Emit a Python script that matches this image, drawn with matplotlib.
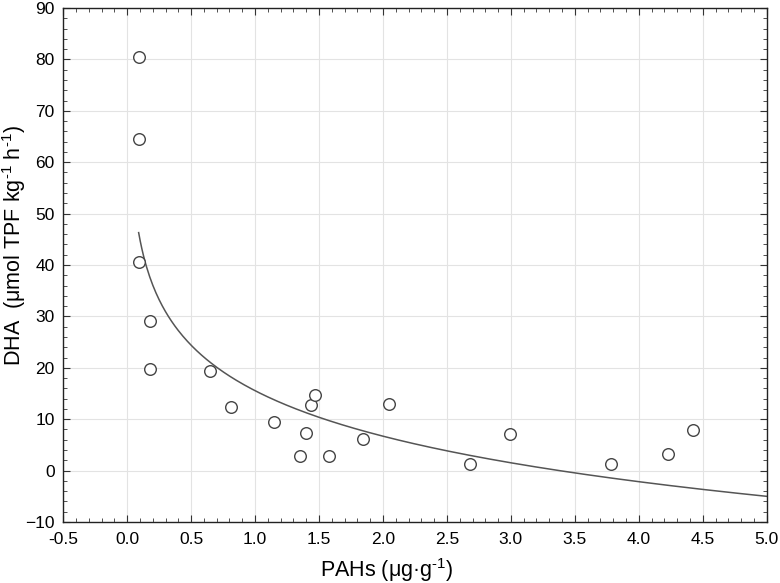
import numpy as np
import matplotlib
matplotlib.use("Agg")
import matplotlib.pyplot as plt
from matplotlib.ticker import MultipleLocator

plt.rcParams['font.family'] = ['Liberation Sans', 'DejaVu Sans']
plt.rcParams['mathtext.fontset'] = 'custom'
plt.rcParams['mathtext.rm'] = 'Liberation Sans'

pahs = [0.09, 0.09, 0.09, 0.18, 0.18, 0.65, 0.81, 1.15, 1.35, 1.40,
        1.44, 1.47, 1.58, 1.84, 2.05, 2.68, 2.99, 3.78, 4.23, 4.42]
dha = [80.4, 64.5, 40.5, 29.1, 19.8, 19.4, 12.4, 9.5, 2.8, 7.3,
       12.7, 14.8, 2.9, 6.2, 13.0, 1.3, 7.2, 1.3, 3.2, 7.9]

# logarithmic fit: y = a + b*ln(x)
fit_a = 15.55
fit_b = -12.77
fit_xmin, fit_xmax = 0.09, 5.0

fig = plt.figure(figsize=(7.8, 5.83), dpi=100)
ax = fig.add_axes([0.081, 0.1046, 0.902, 0.8817])

xs = np.linspace(fit_xmin, fit_xmax, 400)
ax.plot(xs, fit_a + fit_b * np.log(xs), color='#555555', lw=1.1, zorder=2)
ax.scatter(pahs, dha, s=70, facecolors='white', edgecolors='#444444', linewidths=1.0, zorder=3)

ax.set_xlim(-0.5, 5.0)
ax.set_ylim(-10, 90)
ax.xaxis.set_major_locator(MultipleLocator(0.5))
ax.xaxis.set_minor_locator(MultipleLocator(0.1))
ax.yaxis.set_major_locator(MultipleLocator(10))
ax.yaxis.set_minor_locator(MultipleLocator(2))
ax.xaxis.set_major_formatter(matplotlib.ticker.FormatStrFormatter('%.1f'))
ax.grid(True, which='major', color='#e3e3e3', lw=0.8, zorder=0)
ax.set_axisbelow(True)
ax.tick_params(which='both', direction='in', top=True, right=True, color='#333333')
ax.tick_params(which='major', length=5, labelsize=12.5)
ax.tick_params(axis='x', which='major', pad=7)
ax.tick_params(axis='y', which='major', pad=6)
ax.tick_params(which='minor', length=3)
for s in ax.spines.values():
    s.set_color('#222222')
    s.set_linewidth(1.0)

ax.set_xlabel(r'PAHs (μg·g$^{\text{-1}}$)', fontsize=15.5)
ax.xaxis.set_label_coords(0.46, -0.066)
ax.set_ylabel(r'DHA  (μmol TPF kg$^{\text{-1}}$ h$^{\text{-1}}$)', fontsize=15.5)
ax.yaxis.set_label_coords(-0.05, 0.537)

fig.savefig('out.png', dpi=100)
